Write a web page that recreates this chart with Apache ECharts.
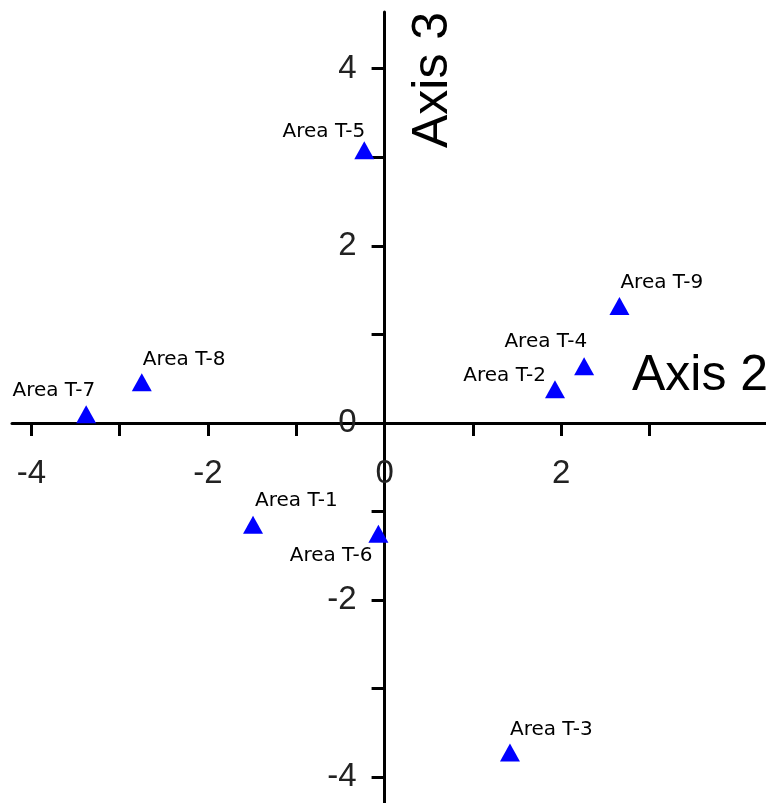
<!DOCTYPE html>
<html lang="en">
<head>
  <meta charset="UTF-8">
  <title>Areas on Axis 2 / Axis 3</title>
  <script src="https://cdn.jsdelivr.net/npm/echarts@6/dist/echarts.min.js"></script>
  <style>
    html, body { margin: 0; padding: 0; background: #fff; }
    #chart { width: 766px; height: 803px; }
  </style>
</head>
<body>
  <div id="chart"></div>
  <script>
    // point names and scores
    const areaNames = ['Area T-1', 'Area T-2', 'Area T-3', 'Area T-4', 'Area T-5',
                       'Area T-6', 'Area T-7', 'Area T-8', 'Area T-9'];
    const axis2Scores = [-1.49, 1.93, 1.42, 2.26, -0.23, -0.07, -3.38, -2.75, 2.66];
    const axis3Scores = [-1.15, 0.38, -3.72, 0.64, 3.08, -1.25, 0.10, 0.46, 1.32];

    // ticks and tick labels
    const xTicks = [-4, -3, -2, -1, 0, 1, 2, 3];
    const xTickLabels = [-4, -2, 0, 2];
    const yTicks = [-4, -3, -2, -1, 0, 1, 2, 3, 4];
    const yTickLabels = [-4, -2, 0, 2, 4];

    // axis extents
    const xMin = -4.22, xMax = 4.32;
    const yMin = -4.29, yMax = 4.64;

    // where each point's label sits relative to its marker
    const labelPlacement = [
      { align: 'left',  offset: [2, -24] },
      { align: 'right', offset: [-9, -14] },
      { align: 'left',  offset: [0, -23] },
      { align: 'right', offset: [3, -25] },
      { align: 'right', offset: [1, -18] },
      { align: 'right', offset: [-6, 22] },
      { align: 'right', offset: [9, -23] },
      { align: 'left',  offset: [1, -22] },
      { align: 'left',  offset: [1, -23] }
    ];

    const points = areaNames.map((name, i) => ({
      name: name,
      value: [axis2Scores[i], axis3Scores[i]],
      label: {
        show: true,
        position: 'inside',
        formatter: name,
        align: labelPlacement[i].align,
        verticalAlign: 'middle',
        offset: labelPlacement[i].offset
      }
    }));

    // plot box
    const chartW = 766, chartH = 803;
    const plotLeft = 12, plotTop = 12;
    const plotW = chartW - plotLeft, plotH = chartH - plotTop;
    // where the zero lines fall, so the tick labels can sit beside them
    // (v6 keeps axis labels at the grid edge even when the line is onZero)
    const zeroX = plotLeft + (0 - xMin) / (xMax - xMin) * plotW;
    const zeroY = plotTop + (yMax - 0) / (yMax - yMin) * plotH;

    const tickLabelStyle = {
      fontFamily: 'Liberation Sans',
      fontSize: 33,
      color: '#222'
    };
    const hidden = { show: false };

    const chart = echarts.init(document.getElementById('chart'));
    chart.setOption({
      animation: false,
      grid: [
        // main plot
        { left: plotLeft, right: 0, top: plotTop, bottom: 0, outerBoundsMode: 'none' },
        // helper grid whose bottom edge is the x zero line (x tick labels)
        { left: plotLeft, right: 0, top: plotTop, bottom: chartH - zeroY, outerBoundsMode: 'none' },
        // helper grid whose left edge is the y zero line (y tick labels)
        { left: zeroX, right: 0, top: plotTop, bottom: 0, outerBoundsMode: 'none' }
      ],
      xAxis: [
        {
          type: 'value', gridIndex: 0, min: xMin, max: xMax,
          splitLine: hidden,
          axisLine: { onZero: true, lineStyle: { color: '#000', width: 3 } },
          axisTick: { customValues: xTicks, length: 13, lineStyle: { color: '#000', width: 3 } },
          axisLabel: hidden
        },
        {
          type: 'value', gridIndex: 1, min: xMin, max: xMax,
          splitLine: hidden, axisLine: hidden, axisTick: hidden,
          axisLabel: Object.assign({ customValues: xTickLabels, margin: 34 }, tickLabelStyle)
        },
        { type: 'value', gridIndex: 2, show: false }
      ],
      yAxis: [
        {
          type: 'value', gridIndex: 0, min: yMin, max: yMax,
          splitLine: hidden,
          axisLine: { onZero: true, lineStyle: { color: '#000', width: 3 } },
          axisTick: { customValues: yTicks, length: 13, lineStyle: { color: '#000', width: 3 } },
          axisLabel: hidden
        },
        { type: 'value', gridIndex: 1, show: false },
        {
          type: 'value', gridIndex: 2, min: yMin, max: yMax,
          splitLine: hidden, axisLine: hidden, axisTick: hidden,
          axisLabel: Object.assign({ customValues: yTickLabels, margin: 28 }, tickLabelStyle)
        }
      ],
      graphic: [
        {
          type: 'text',
          x: 632, y: 376,
          style: {
            text: 'Axis 2',
            fontFamily: 'Liberation Sans',
            fontSize: 50,
            fill: '#000',
            align: 'left',
            verticalAlign: 'middle'
          }
        },
        {
          type: 'text',
          x: 433, y: 80,
          rotation: Math.PI / 2,
          style: {
            text: 'Axis 3',
            fontFamily: 'Liberation Sans',
            fontSize: 50,
            fill: '#000',
            align: 'center',
            verticalAlign: 'middle'
          }
        }
      ],
      series: [{
        type: 'scatter',
        xAxisIndex: 0,
        yAxisIndex: 0,
        symbol: 'triangle',
        symbolSize: [20, 18],
        z: 1,
        itemStyle: { color: '#0000ff', opacity: 1 },
        label: {
          fontFamily: 'DejaVu Sans',
          fontSize: 20,
          color: '#000',
          opacity: 1
        },
        data: points
      }]
    });
  </script>
</body>
</html>
